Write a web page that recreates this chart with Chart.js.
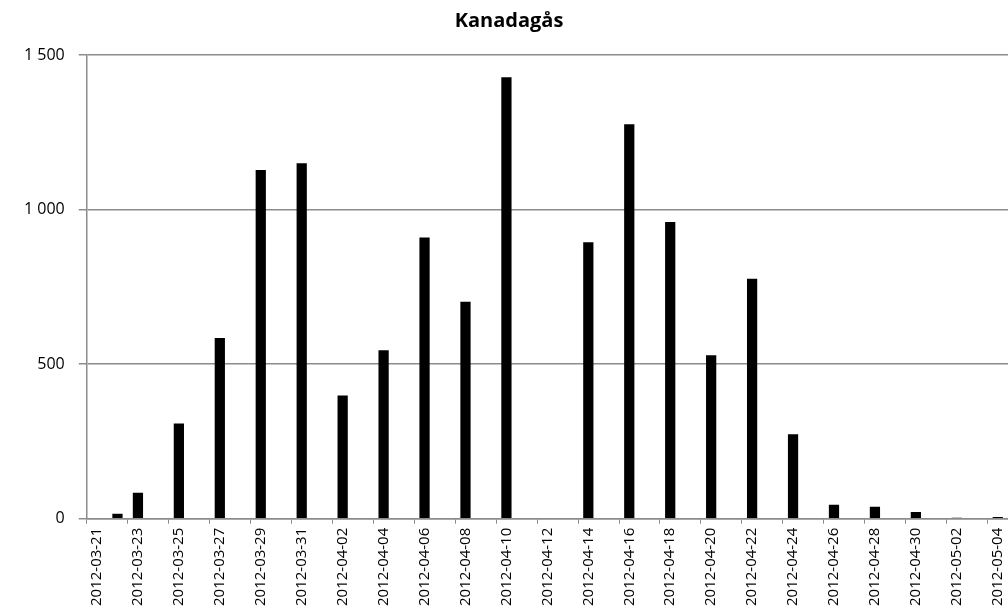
<!DOCTYPE html>
<html>
<head>
<meta charset="utf-8">
<title>Kanadagås</title>
<script src="https://cdn.jsdelivr.net/npm/chart.js@4.4.0/dist/chart.umd.min.js"></script>
<style>
  body { margin: 0; background: #fff; }
  canvas { display: block; }
</style>
</head>
<body>
<canvas id="myChart" width="1008" height="610"></canvas>
<script>
var chartTitle = 'Kanadagås';

// one category per day, labels shown every second day
var days = [
  '2012-03-21', '2012-03-22', '2012-03-23', '2012-03-24', '2012-03-25', '2012-03-26',
  '2012-03-27', '2012-03-28', '2012-03-29', '2012-03-30', '2012-03-31', '2012-04-01',
  '2012-04-02', '2012-04-03', '2012-04-04', '2012-04-05', '2012-04-06', '2012-04-07',
  '2012-04-08', '2012-04-09', '2012-04-10', '2012-04-11', '2012-04-12', '2012-04-13',
  '2012-04-14', '2012-04-15', '2012-04-16', '2012-04-17', '2012-04-18', '2012-04-19',
  '2012-04-20', '2012-04-21', '2012-04-22', '2012-04-23', '2012-04-24', '2012-04-25',
  '2012-04-26', '2012-04-27', '2012-04-28', '2012-04-29', '2012-04-30', '2012-05-01',
  '2012-05-02', '2012-05-03', '2012-05-04'
];

var counts = [
  null, 16, 84, null, 308, null,
  585, null, 1128, null, 1150, null,
  399, null, 545, null, 910, null,
  702, null, 1428, null, null, null,
  894, null, 1276, null, 960, null,
  529, null, 776, null, 273, null,
  45, null, 39, null, 22, null,
  3, null, 6
];

var yTicks = [0, 500, 1000, 1500];

var ctx = document.getElementById('myChart');
var gridGray = '#8c8c8c';

var myChart = new Chart(ctx, {
  type: 'bar',
  data: {
    labels: days,
    datasets: [{
      label: chartTitle,
      data: counts,
      backgroundColor: '#000',
      borderWidth: 0,
      barPercentage: 0.5,
      categoryPercentage: 1
    }]
  },
  options: {
    responsive: false,
    animation: false,
    layout: { padding: { left: 10, right: 0, top: 0, bottom: 0 } },
    plugins: {
      legend: { display: false },
      tooltip: { enabled: false },
      title: {
        display: true,
        text: chartTitle,
        color: '#000',
        font: { family: 'Open Sans', size: 20, weight: 'bold' },
        padding: { top: 9, bottom: 22 }
      }
    },
    scales: {
      x: {
        offset: true,
        grid: {
          offset: true,
          drawOnChartArea: false,
          tickLength: 5,
          color: function(c) { return c.index % 2 === 0 ? gridGray : 'rgba(0,0,0,0)'; }
        },
        border: { display: true, color: gridGray, width: 1.5 },
        ticks: {
          autoSkip: false,
          maxRotation: 90,
          minRotation: 90,
          padding: 4,
          color: '#000',
          font: { family: 'Open Sans', size: 15 },
          callback: function(v, i) { return i % 2 === 0 ? days[i] : ''; }
        },
        // plot runs to the right edge of the picture, like the original
        afterFit: function(scale) { scale.paddingRight = 0; }
      },
      y: {
        min: yTicks[0],
        max: yTicks[yTicks.length - 1],
        afterBuildTicks: function(axis) {
          axis.ticks = yTicks.map(function(v) { return { value: v }; });
        },
        grid: { color: gridGray, lineWidth: 1.5, tickLength: 8 },
        border: { display: true, color: gridGray, width: 1.5 },
        ticks: {
          padding: 14,
          color: '#000',
          font: { family: 'Open Sans', size: 16 },
          callback: function(v) { return String(v).replace(/\B(?=(\d{3})+(?!\d))/g, ' '); }
        }
      }
    }
  }
});
</script>
</body>
</html>
